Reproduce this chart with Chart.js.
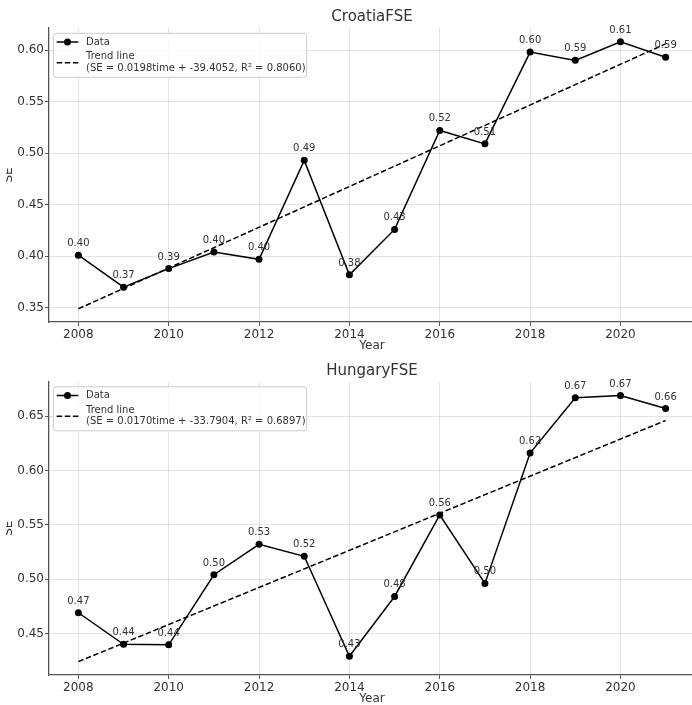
<!DOCTYPE html>
<html><head><meta charset="utf-8">
<script src="https://cdn.jsdelivr.net/npm/chart.js@4.4.1/dist/chart.umd.min.js"></script>
<style>
html,body{margin:0;padding:0;overflow:hidden;background:#fff;width:692px;height:705px;}
.wrap{position:absolute;left:6px;width:693px;}
#w1{top:0;height:352px;}
#w2{top:352px;height:353px;}
canvas{display:block;}
</style></head><body>
<div class="wrap" id="w1"><canvas id="c1" width="693" height="352"></canvas></div>
<div class="wrap" id="w2"><canvas id="c2" width="693" height="353"></canvas></div>
<script>
// ---- data ----
const years = [2008, 2009, 2010, 2011, 2012, 2013, 2014, 2015, 2016, 2017, 2018, 2019, 2020, 2021];
const croatiaSE = [0.401, 0.370, 0.388, 0.404, 0.397, 0.493, 0.382, 0.426, 0.522, 0.509, 0.598, 0.590, 0.608, 0.593];
const hungarySE = [0.469, 0.440, 0.4395, 0.504, 0.532, 0.521, 0.429, 0.484, 0.559, 0.496, 0.616, 0.667, 0.669, 0.657];
const trendYears = [2008, 2021];
const croatiaTrend = [0.349, 0.606];
const hungaryTrend = [0.424, 0.646];
const xTicks = [2008, 2010, 2012, 2014, 2016, 2018, 2020];
const croatiaYTicks = [0.35, 0.40, 0.45, 0.50, 0.55, 0.60];
const hungaryYTicks = [0.45, 0.50, 0.55, 0.60, 0.65];
const croatiaTitle = 'CroatiaFSE';
const hungaryTitle = 'HungaryFSE';
const croatiaEq = '(SE = 0.0198time + -39.4052, R² = 0.8060)';
const hungaryEq = '(SE = 0.0170time + -33.7904, R² = 0.6897)';
const xLabel = 'Year';
const yLabel = 'SE';
const legendData = 'Data';
const legendTrend = 'Trend line';

Chart.defaults.font.family = '"DejaVu Sans", sans-serif';
const TXT = '#333333';
const SPINE = '#555555';
const DASH = [5.5, 2.6];

const overlay = {
  id: 'overlay',
  afterDatasetsDraw(chart, args, o) {
    const ctx = chart.ctx;
    const meta = chart.getDatasetMeta(0);
    const ds = chart.data.datasets[0].data;
    ctx.save();
    ctx.font = '10px "DejaVu Sans"';
    ctx.fillStyle = TXT;
    ctx.textAlign = 'center';
    ctx.textBaseline = 'alphabetic';
    meta.data.forEach((pt, i) => {
      ctx.fillText(ds[i].y.toFixed(2), pt.x, pt.y - 9);
    });
    ctx.restore();
  },
  afterDraw(chart, args, o) {
    const ctx = chart.ctx;
    const a = chart.chartArea;
    ctx.save();
    // title
    ctx.font = '15px "DejaVu Sans"';
    ctx.fillStyle = TXT;
    ctx.textAlign = 'center';
    ctx.textBaseline = 'middle';
    ctx.fillText(o.title, (a.left + a.right) / 2, o.titleY);
    // legend
    const bx = a.left + 4.3, by = a.top + 5.3, bw = 253.4, bh = 44;
    ctx.beginPath();
    ctx.roundRect(bx, by, bw, bh, 3);
    ctx.fillStyle = 'rgba(255,255,255,0.85)';
    ctx.fill();
    ctx.strokeStyle = '#cccccc';
    ctx.lineWidth = 1;
    ctx.stroke();
    ctx.strokeStyle = '#000';
    ctx.lineWidth = 1.5;
    ctx.beginPath();
    ctx.moveTo(bx + 3.4, by + 8.7); ctx.lineTo(bx + 25, by + 8.7); ctx.stroke();
    ctx.beginPath();
    ctx.arc(bx + 14.2, by + 8.7, 3.5, 0, Math.PI * 2);
    ctx.fillStyle = '#000'; ctx.fill();
    ctx.setLineDash(DASH);
    ctx.beginPath();
    ctx.moveTo(bx + 3.4, by + 29.4); ctx.lineTo(bx + 25.2, by + 29.4); ctx.stroke();
    ctx.setLineDash([]);
    ctx.font = '10px "DejaVu Sans"';
    ctx.fillStyle = TXT;
    ctx.textAlign = 'left';
    ctx.textBaseline = 'middle';
    ctx.fillText(legendData, bx + 32.7, by + 8.7);
    ctx.fillText(legendTrend, bx + 32.7, by + 23.4);
    ctx.fillText(o.eq, bx + 32.7, by + 35);
    ctx.restore();
  }
};

function makeChart(id, cfg) {
  const pts = years.map((y, i) => ({ x: y, y: cfg.values[i] }));
  const tr = trendYears.map((y, i) => ({ x: y, y: cfg.trend[i] }));
  return new Chart(document.getElementById(id), {
    type: 'line',
    data: {
      datasets: [
        { data: pts, borderColor: '#000', backgroundColor: '#000', borderWidth: 1.5,
          pointRadius: 3.5, pointBackgroundColor: '#000', pointBorderWidth: 0, tension: 0, fill: false },
        { data: tr, borderColor: '#000', borderWidth: 1.5, borderDash: DASH,
          pointRadius: 0, tension: 0, fill: false }
      ]
    },
    options: {
      responsive: false,
      animation: false,
      events: [],
      layout: { padding: { top: cfg.top, left: 0, right: 0, bottom: 0 } },
      plugins: {
        legend: { display: false },
        tooltip: { enabled: false },
        overlay: { title: cfg.title, titleY: cfg.titleY, eq: cfg.eq }
      },
      scales: {
        x: {
          type: 'linear', min: 2007.35, max: 2021.65,
          afterBuildTicks: s => { s.ticks = xTicks.map(v => ({ value: v })); },
          afterFit: s => { s.height = 30; s.paddingLeft = 0; s.paddingRight = 0; },
          ticks: { callback: v => String(v), font: { size: 12 }, color: TXT, padding: 2, maxRotation: 0, autoSkip: false },
          grid: { color: 'rgba(0,0,0,0.14)', lineWidth: 0.8, borderDash: [2, 2], tickLength: 4,
                  tickColor: SPINE, tickWidth: 1, tickBorderDash: [] },
          border: { color: SPINE, width: 1.3 },
          title: { display: true, text: xLabel, font: { size: 12 }, color: TXT, padding: { top: 0, bottom: cfg.yearPad } }
        },
        y: {
          min: cfg.yMin, max: cfg.yMax,
          afterBuildTicks: s => { s.ticks = cfg.yTicks.map(v => ({ value: v })); },
          afterFit: s => { s.width = 43; s.paddingTop = 0; s.paddingBottom = 0; },
          ticks: { callback: v => v.toFixed(2), font: { size: 12 }, color: TXT, padding: 1, autoSkip: false },
          grid: { color: 'rgba(0,0,0,0.14)', lineWidth: 0.8, borderDash: [2, 2], tickLength: 4,
                  tickColor: SPINE, tickWidth: 1, tickBorderDash: [] },
          border: { color: SPINE, width: 1.3 },
          title: { display: true, text: yLabel, font: { size: 12 }, color: TXT, padding: { top: -4.6, bottom: 0 } }
        }
      }
    },
    plugins: [overlay]
  });
}

makeChart('c1', { values: croatiaSE, trend: croatiaTrend, yMin: 0.3362, yMax: 0.6214, yTicks: croatiaYTicks,
  title: croatiaTitle, eq: croatiaEq, top: 28, titleY: 17, yearPad: -0.9 });
makeChart('c2', { values: hungarySE, trend: hungaryTrend, yMin: 0.4117, yMax: 0.6819, yTicks: hungaryYTicks,
  title: hungaryTitle, eq: hungaryEq, top: 29.5, titleY: 19, yearPad: -1.5 });
</script>
</body></html>
